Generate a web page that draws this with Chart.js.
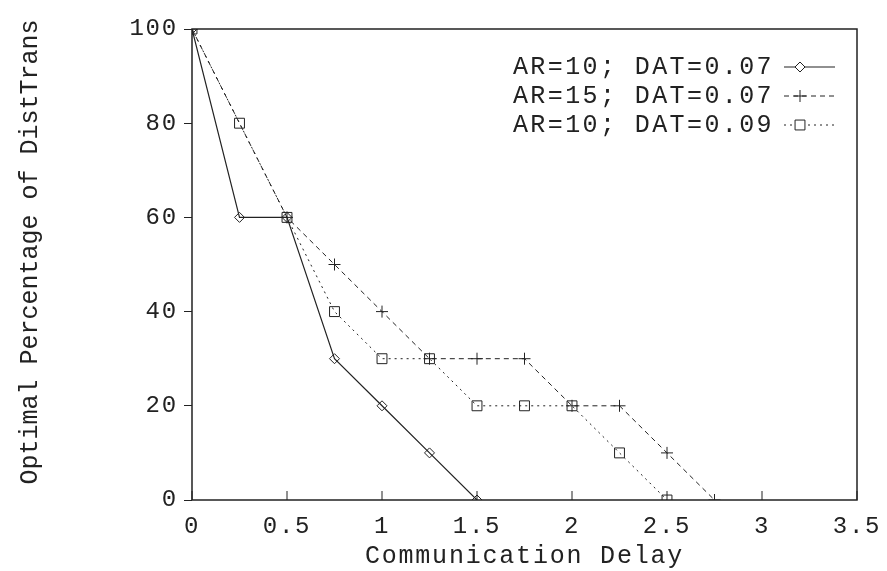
<!DOCTYPE html>
<html lang="en">
<head>
  <meta charset="UTF-8" />
  <title>Optimal Percentage of DistTrans</title>
  <script src="https://cdn.jsdelivr.net/npm/chart.js"></script>
  <style>
    html, body { margin: 0; padding: 0; background: #fff; }
    #wrap { width: 887px; height: 571px; }
  </style>
</head>
<body>
  <div id="wrap"><canvas id="delayChart" width="887" height="571"></canvas></div>
  <script>
    // values
    const seriesLabels = ["AR=10; DAT=0.07", "AR=15; DAT=0.07", "AR=10; DAT=0.09"];
    const delaysA = [0, 0.25, 0.5, 0.75, 1, 1.25, 1.5];
    const pctA = [100, 60, 60, 30, 20, 10, 0];
    const delaysB = [0, 0.5, 0.75, 1, 1.25, 1.5, 1.75, 2, 2.25, 2.5, 2.75];
    const pctB = [100, 60, 50, 40, 30, 30, 30, 20, 20, 10, 0];
    const delaysC = [0, 0.25, 0.5, 0.75, 1, 1.25, 1.5, 1.75, 2, 2.25, 2.5];
    const pctC = [100, 80, 60, 40, 30, 30, 20, 20, 20, 10, 0];
    const xTicks = [0, 0.5, 1, 1.5, 2, 2.5, 3, 3.5];
    const yTicks = [0, 20, 40, 60, 80, 100];
    const yTitle = "Optimal Percentage of DistTrans";

    const ink = "#222";
    const mono = "'Liberation Mono', 'DejaVu Sans Mono', monospace";

    const toPoints = (xs, ys) => xs.map((x, i) => ({ x: x, y: ys[i] }));

    // wider spacing, like the stretched courier of the original
    const spacing = {
      id: "spacing",
      beforeUpdate(chart) { chart.ctx.letterSpacing = "1.8px"; },
      beforeDraw(chart) { chart.ctx.letterSpacing = "1.8px"; }
    };

    // box round the plot, inward x ticks, rotated y title
    const frame = {
      id: "frame",
      afterDraw(chart) {
        const { ctx, chartArea: a, scales } = chart;
        ctx.save();
        ctx.strokeStyle = ink;
        ctx.lineWidth = 1.5;
        ctx.strokeRect(a.left, a.top, a.right - a.left, a.bottom - a.top);
        ctx.lineWidth = 1;
        xTicks.forEach(v => {
          const px = scales.x.getPixelForValue(v);
          ctx.beginPath();
          ctx.moveTo(px, a.bottom);
          ctx.lineTo(px, a.bottom - 9);
          ctx.stroke();
        });
        ctx.letterSpacing = "0px";
        ctx.font = "25px " + mono;
        ctx.fillStyle = ink;
        ctx.textAlign = "center";
        ctx.textBaseline = "middle";
        ctx.translate(30, 252);
        ctx.rotate(-Math.PI / 2);
        ctx.fillText(yTitle, 0, 0);
        ctx.restore();
      }
    };

    // gnuplot-style key: text, then line sample with marker
    const key = {
      id: "key",
      afterDatasetsDraw(chart) {
        const ctx = chart.ctx;
        ctx.save();
        ctx.font = "25px " + mono;
        ctx.letterSpacing = "2.4px";
        ctx.textAlign = "right";
        ctx.textBaseline = "middle";
        chart.data.datasets.forEach((ds, i) => {
          const y = 67 + i * 29;
          ctx.fillStyle = ink;
          ctx.fillText(ds.label, 774, y);
          ctx.strokeStyle = ds.borderColor;
          ctx.lineWidth = ds.borderWidth;
          ctx.setLineDash(ds.borderDash || []);
          ctx.beginPath();
          ctx.moveTo(784, y);
          ctx.lineTo(835, y);
          ctx.stroke();
          ctx.setLineDash([]);
          ctx.fillStyle = "#fff";
          ctx.lineWidth = 1;
          Chart.helpers.drawPoint(ctx, {
            pointStyle: ds.pointStyle, radius: ds.pointRadius, rotation: 0, borderWidth: 1
          }, 800, y);
        });
        ctx.restore();
      }
    };

    new Chart(document.getElementById("delayChart"), {
      type: "line",
      data: {
        datasets: [
          {
            label: seriesLabels[0],
            data: toPoints(delaysA, pctA),
            borderColor: ink, borderWidth: 1.2,
            pointStyle: "rectRot", pointRadius: 5,
            pointBorderColor: ink, pointBackgroundColor: "rgba(0,0,0,0)", pointBorderWidth: 1
          },
          {
            label: seriesLabels[1],
            data: toPoints(delaysB, pctB),
            borderColor: ink, borderWidth: 1, borderDash: [5, 4],
            pointStyle: "cross", pointRadius: 6,
            pointBorderColor: ink, pointBackgroundColor: "rgba(0,0,0,0)", pointBorderWidth: 1
          },
          {
            label: seriesLabels[2],
            data: toPoints(delaysC, pctC),
            borderColor: ink, borderWidth: 1, borderDash: [2, 4],
            pointStyle: "rect", pointRadius: 7,
            pointBorderColor: ink, pointBackgroundColor: "rgba(0,0,0,0)", pointBorderWidth: 1
          }
        ]
      },
      options: {
        responsive: false,
        animation: false,
        devicePixelRatio: 1,
        layout: { padding: { left: 0, right: 30, top: 29, bottom: 0 } },
        elements: { line: { tension: 0, fill: false } },
        scales: {
          x: {
            type: "linear",
            min: 0, max: 3.5,
            afterFit: s => { s.height = 71; s.paddingLeft = 0; s.paddingRight = 0; },
            afterBuildTicks: s => { s.ticks = xTicks.map(v => ({ value: v })); },
            grid: { display: false, drawTicks: false },
            border: { display: false },
            ticks: {
              color: ink, font: { family: mono, size: 24 }, padding: 12, maxRotation: 0,
              callback: v => String(v)
            },
            title: {
              display: true, text: "Communication Delay", color: ink,
              font: { family: mono, size: 25 }, padding: { top: 0, bottom: 0 }
            }
          },
          y: {
            min: 0, max: 100,
            afterFit: s => { s.width = 192; s.paddingTop = 0; s.paddingBottom = 0; },
            afterBuildTicks: s => { s.ticks = yTicks.map(v => ({ value: v })); },
            grid: { drawOnChartArea: false, tickLength: 8, color: ink, lineWidth: 1 },
            border: { display: false },
            ticks: { color: ink, font: { family: mono, size: 24 }, padding: 6, callback: v => String(v) },
            title: { display: false }
          }
        },
        plugins: {
          legend: { display: false },
          tooltip: { enabled: false }
        }
      },
      plugins: [spacing, frame, key]
    });
  </script>
</body>
</html>
